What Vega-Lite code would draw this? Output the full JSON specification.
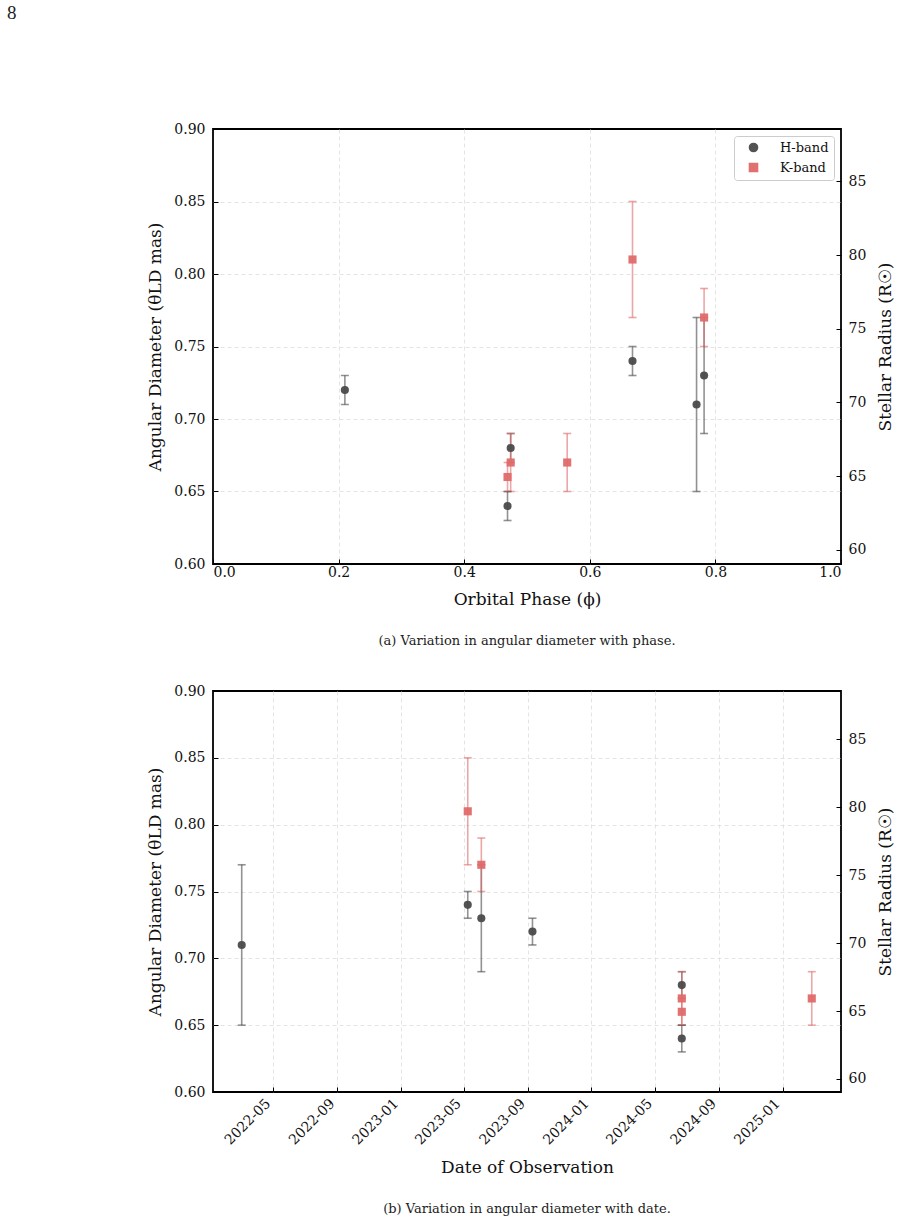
{
  "$schema": "https://vega.github.io/schema/vega-lite/v6.json",
  "background": "white",
  "padding": {"left": 6, "top": 4, "right": 6, "bottom": 5},
  "title": {"text": "8", "anchor": "start", "frame": "bounds", "font": "Liberation Serif", "fontSize": 19, "fontWeight": "normal", "color": "#222", "dx": -139, "offset": 98},
  "datasets": {
    "obs": [
      {"band": "H-band", "phase": 0.770, "date": "2022-03-02", "theta": 0.71, "err": 0.06},
      {"band": "H-band", "phase": 0.668, "date": "2023-05-09", "theta": 0.74, "err": 0.01},
      {"band": "K-band", "phase": 0.668, "date": "2023-05-09", "theta": 0.81, "err": 0.04},
      {"band": "H-band", "phase": 0.782, "date": "2023-06-04", "theta": 0.73, "err": 0.04},
      {"band": "K-band", "phase": 0.782, "date": "2023-06-04", "theta": 0.77, "err": 0.02},
      {"band": "H-band", "phase": 0.210, "date": "2023-09-10", "theta": 0.72, "err": 0.01},
      {"band": "H-band", "phase": 0.469, "date": "2024-06-22", "theta": 0.64, "err": 0.01},
      {"band": "H-band", "phase": 0.474, "date": "2024-06-22", "theta": 0.68, "err": 0.01},
      {"band": "K-band", "phase": 0.469, "date": "2024-06-22", "theta": 0.66, "err": 0.01},
      {"band": "K-band", "phase": 0.474, "date": "2024-06-22", "theta": 0.67, "err": 0.02},
      {"band": "K-band", "phase": 0.564, "date": "2025-02-26", "theta": 0.67, "err": 0.02}
    ]
  },
  "spacing": 34,
  "vconcat": [
    {
      "width": 628,
      "height": 435,
      "data": {"name": "obs"},
      "title": {"text": "(a) Variation in angular diameter with phase.", "orient": "bottom", "anchor": "middle", "font": "DejaVu Serif", "fontSize": 13, "fontWeight": "normal", "color": "#222", "offset": 28},
      "layer": [
        {
          "encoding": {
            "x": {"field": "phase", "type": "quantitative", "scale": {"domain": [0, 1], "nice": false},
                  "axis": {"title": "Orbital Phase (ϕ)", "values": [0, 0.2, 0.4, 0.6, 0.8, 1.0], "format": ".1f", "grid": true, "labelPadding": 6, "titlePadding": 12,
                           "gridOpacity": {"condition": {"test": "datum.value <= 0 || datum.value >= 1", "value": 0}, "value": 1}}},
            "y": {"field": "theta", "type": "quantitative", "scale": {"domain": [0.6, 0.9], "nice": false, "zero": false},
                  "axis": {"title": "Angular Diameter (θLD mas)", "orient": "left", "values": [0.6, 0.65, 0.7, 0.75, 0.8, 0.85, 0.9], "format": ".2f", "grid": true, "labelPadding": 13, "titlePadding": 9,
                           "gridOpacity": {"condition": {"test": "datum.value <= 0.6 || datum.value >= 0.9", "value": 0}, "value": 1}}},
            "color": {"field": "band", "type": "nominal", "scale": {"domain": ["H-band", "K-band"], "range": ["#4a4a4a", "#e06a6a"]},
                      "legend": {"title": null, "orient": "top-right", "offset": 7}}
          },
          "layer": [
            {"mark": {"type": "errorbar", "ticks": {"size": 8}, "thickness": 1.6, "opacity": 0.6},
             "encoding": {"yError": {"field": "err"}}},
            {"mark": {"type": "point", "filled": true, "size": 66, "opacity": 0.95},
             "encoding": {"shape": {"field": "band", "type": "nominal", "scale": {"domain": ["H-band", "K-band"], "range": ["circle", "square"]}, "legend": {"title": null, "orient": "top-right", "offset": 7}}}}
          ]
        },
        {
          "mark": {"type": "point", "opacity": 0, "clip": true},
          "encoding": {
            "x": {"field": "phase", "type": "quantitative"},
            "y": {"field": "theta", "type": "quantitative", "scale": {"domain": [59.04, 88.56], "nice": false, "zero": false},
                  "axis": {"title": "Stellar Radius (R☉)", "orient": "right", "titleAngle": 270, "titleBaseline": "top", "values": [60, 65, 70, 75, 80, 85], "grid": false, "labelPadding": 12, "titlePadding": 12}}
          }
        }
      ],
      "resolve": {"scale": {"y": "independent"}, "axis": {"y": "independent"}}
    },
    {
      "width": 628,
      "height": 401,
      "data": {"name": "obs"},
      "title": {"text": "(b) Variation in angular diameter with date.", "orient": "bottom", "anchor": "middle", "font": "DejaVu Serif", "fontSize": 13, "fontWeight": "normal", "color": "#222", "offset": 28},
      "layer": [
        {
          "encoding": {
            "x": {"field": "date", "type": "temporal",
                  "scale": {"type": "utc", "domain": [{"year": 2022, "month": 1, "date": 6, "utc": true}, {"year": 2025, "month": 4, "date": 23, "utc": true}], "nice": false},
                  "axis": {"title": "Date of Observation", "format": "%Y-%m", "labelAngle": -45, "labelAlign": "right", "labelBaseline": "middle", "labelOffset": -5, "grid": true, "labelPadding": 14, "titlePadding": 12,
                           "values": [
                             {"year": 2022, "month": 5, "date": 1, "utc": true},
                             {"year": 2022, "month": 9, "date": 1, "utc": true},
                             {"year": 2023, "month": 1, "date": 1, "utc": true},
                             {"year": 2023, "month": 5, "date": 1, "utc": true},
                             {"year": 2023, "month": 9, "date": 1, "utc": true},
                             {"year": 2024, "month": 1, "date": 1, "utc": true},
                             {"year": 2024, "month": 5, "date": 1, "utc": true},
                             {"year": 2024, "month": 9, "date": 1, "utc": true},
                             {"year": 2025, "month": 1, "date": 1, "utc": true}
                           ]}},
            "y": {"field": "theta", "type": "quantitative", "scale": {"domain": [0.6, 0.9], "nice": false, "zero": false},
                  "axis": {"title": "Angular Diameter (θLD mas)", "orient": "left", "values": [0.6, 0.65, 0.7, 0.75, 0.8, 0.85, 0.9], "format": ".2f", "grid": true, "labelPadding": 13, "titlePadding": 9,
                           "gridOpacity": {"condition": {"test": "datum.value <= 0.6 || datum.value >= 0.9", "value": 0}, "value": 1}}},
            "color": {"field": "band", "type": "nominal", "scale": {"domain": ["H-band", "K-band"], "range": ["#4a4a4a", "#e06a6a"]},
                      "legend": {"title": null, "orient": "top-right", "offset": 7}}
          },
          "layer": [
            {"mark": {"type": "errorbar", "ticks": {"size": 8}, "thickness": 1.6, "opacity": 0.6},
             "encoding": {"yError": {"field": "err"}}},
            {"mark": {"type": "point", "filled": true, "size": 66, "opacity": 0.95},
             "encoding": {"shape": {"field": "band", "type": "nominal", "scale": {"domain": ["H-band", "K-band"], "range": ["circle", "square"]}, "legend": {"title": null, "orient": "top-right", "offset": 7}}}}
          ]
        },
        {
          "mark": {"type": "point", "opacity": 0, "clip": true},
          "encoding": {
            "x": {"field": "date", "type": "temporal"},
            "y": {"field": "theta", "type": "quantitative", "scale": {"domain": [59.04, 88.56], "nice": false, "zero": false},
                  "axis": {"title": "Stellar Radius (R☉)", "orient": "right", "titleAngle": 270, "titleBaseline": "top", "values": [60, 65, 70, 75, 80, 85], "grid": false, "labelPadding": 12, "titlePadding": 12}}
          }
        }
      ],
      "resolve": {"scale": {"y": "independent"}, "axis": {"y": "independent"}}
    }
  ],
  "config": {
    "view": {"stroke": "black", "strokeWidth": 1.8},
    "axis": {
      "labelFont": "DejaVu Serif", "titleFont": "DejaVu Serif", "labelFontSize": 14, "titleFontSize": 17,
      "titleFontWeight": "normal", "labelColor": "#111", "titleColor": "#111",
      "domain": false, "tickColor": "black", "tickSize": -5, "tickWidth": 1,
      "gridColor": "#dddddd", "gridDash": [4, 3], "gridWidth": 0.8
    },
    "legend": {
      "labelFont": "DejaVu Serif", "labelFontSize": 13, "labelColor": "#111",
      "strokeColor": "#cccccc", "fillColor": "white", "padding": 5, "cornerRadius": 3,
      "symbolOffset": 8, "symbolSize": 66, "symbolOpacity": 0.95, "rowPadding": 5, "labelOffset": 20
    }
  }
}
